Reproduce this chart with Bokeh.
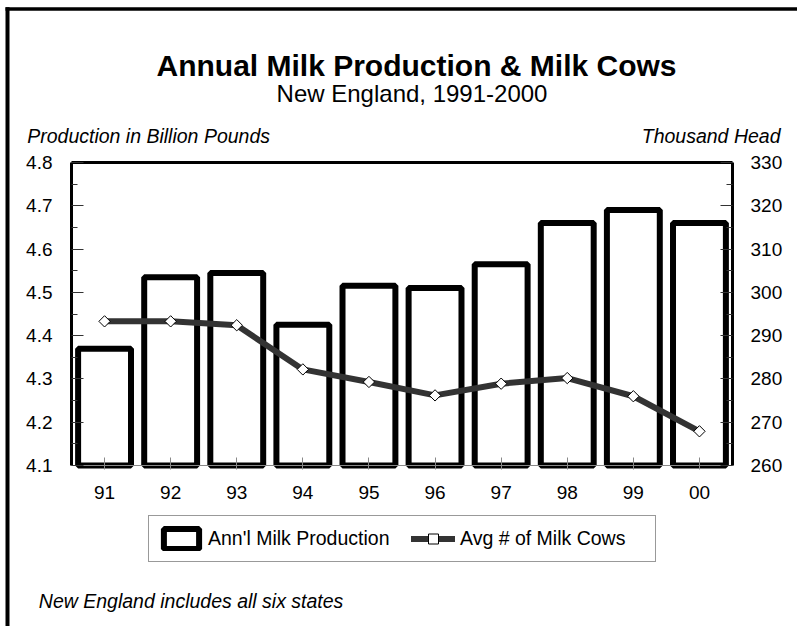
from bokeh.plotting import figure
from bokeh.models import (Range1d, LinearAxis, FixedTicker, BoxAnnotation,
                          Legend, LegendItem, Label, PrintfTickFormatter, ColumnDataSource)
from bokeh.embed import file_html
from bokeh.resources import INLINE
import numpy as np

# ---- data ----
years = ["91", "92", "93", "94", "95", "96", "97", "98", "99", "00"]
production = [4.37, 4.535, 4.545, 4.425, 4.515, 4.51, 4.565, 4.66, 4.69, 4.66]   # billion pounds
cows = [293.3, 293.3, 292.4, 282.2, 279.3, 276.2, 278.9, 280.2, 276.0, 267.9]    # thousand head
prod_ticks = [4.1, 4.2, 4.3, 4.4, 4.5, 4.6, 4.7, 4.8]
prod_minor = [4.15, 4.25, 4.35, 4.45, 4.55, 4.65, 4.75]
cow_ticks = [260, 270, 280, 290, 300, 310, 320, 330]
cow_minor = [265, 275, 285, 295, 305, 315, 325]

title_text = "Annual Milk Production & Milk Cows"
subtitle_text = "New England, 1991-2000"
left_title = "Production in Billion Pounds"
right_title = "Thousand Head"
footnote = "New England includes all six states"
bar_label = "Ann'l Milk Production"
line_label = "Avg # of Milk Cows"

FONT = "Liberation Sans"

# ---- layout (pixels) ----
W, H = 797, 626
PL, PR, PT, PB = 71, 732, 162, 465          # plot area edges

idx = list(range(len(years)))
n = len(years)
xs = (PR - PL) / n                           # px per category
x0 = -0.5 - PL / xs
x1 = -0.5 + (W - PL) / xs
p_lo, p_hi = prod_ticks[0], prod_ticks[-1]
ps = (PB - PT) / (p_hi - p_lo)
c_lo, c_hi = cow_ticks[0], cow_ticks[-1]
cs = (PB - PT) / (c_hi - c_lo)

src = ColumnDataSource(dict(i=idx, prod=production, cows=cows))

p = figure(width=W, height=H, output_backend="svg", toolbar_location=None,
           x_range=Range1d(x0, x1),
           y_range=Range1d(p_lo - (H - PB) / ps, p_hi + PT / ps),
           x_axis_location=None, y_axis_location=None, min_border=0)
p.extra_y_ranges = {"cows": Range1d(c_lo - (H - PB) / cs, c_hi + PT / cs)}
p.outline_line_color = None
p.grid.visible = False
p.background_fill_color = "white"

# ---- axes ----
xa = LinearAxis(fixed_location=p_lo, bounds=(-0.5, n - 0.5),
                ticker=FixedTicker(ticks=idx),
                major_label_overrides={i: y for i, y in zip(idx, years)})
xa.axis_line_color = "#888888"
xa.axis_line_width = 1
xa.major_tick_line_color = "#888888"
xa.major_tick_in = 8
xa.major_tick_out = 4
xa.minor_tick_line_color = None
xa.major_label_standoff = 16
xa.major_label_text_font = FONT
xa.major_label_text_font_size = "19px"
xa.major_label_text_color = "black"
p.add_layout(xa, "below")

top = LinearAxis(fixed_location=p_hi, bounds=(-0.5, n - 0.5), ticker=FixedTicker(ticks=[]),
                 axis_line_color="black", axis_line_width=3,
                 major_tick_line_color=None, minor_tick_line_color=None)
p.add_layout(top, "above")

ya = LinearAxis(fixed_location=-0.5, bounds=(p_lo, p_hi),
                ticker=FixedTicker(ticks=prod_ticks, minor_ticks=prod_minor),
                formatter=PrintfTickFormatter(format="%.1f"))
p.add_layout(ya, "left")
ra = LinearAxis(y_range_name="cows", fixed_location=n - 0.5, bounds=(c_lo, c_hi),
                ticker=FixedTicker(ticks=cow_ticks, minor_ticks=cow_minor))
p.add_layout(ra, "right")
for ax, so in ((ya, 19), (ra, 18)):
    ax.axis_line_color = "black"
    ax.axis_line_width = 3
    ax.major_tick_in = 12
    ax.major_tick_out = 0
    ax.minor_tick_in = 6
    ax.minor_tick_out = 0
    ax.major_tick_line_color = "#333333"
    ax.minor_tick_line_color = "#333333"
    ax.major_label_standoff = so
    ax.major_label_text_font = FONT
    ax.major_label_text_font_size = "19px"
    ax.major_label_text_color = "black"

# ---- marks ----
bars = p.vbar(x="i", top="prod", bottom=p_lo, width=0.8, source=src,
              fill_color="white", line_color="black", line_width=6)
ln = p.line(x="i", y="cows", source=src, y_range_name="cows",
            line_color="#333333", line_width=6, line_join="round", line_cap="round")
sc = p.scatter(x="i", y="cows", source=src, y_range_name="cows", marker="square",
               angle=np.pi / 4, size=8, fill_color="white", line_color="black", line_width=1)

# ---- legend ----
legend = Legend(items=[LegendItem(label=bar_label, renderers=[bars]),
                       LegendItem(label=line_label, renderers=[ln, sc])],
                orientation="horizontal", location=(148, H - 562),
                glyph_width=44, glyph_height=25, label_standoff=5, spacing=18,
                label_width=185, padding=10, margin=0,
                border_line_color="#333333", border_line_width=1,
                label_text_font=FONT, label_text_font_size="19.5px", label_text_color="black",
                background_fill_color="white", background_fill_alpha=1)
p.add_layout(legend, "center")

# ---- page frame (left and top border lines) ----
for l, r, t, b in ((5, 9, H - 6.7, -50), (5, W + 50, H - 6.7, H - 10.2)):
    p.add_layout(BoxAnnotation(left=l, right=r, top=t, bottom=b,
                               left_units="screen", right_units="screen",
                               top_units="screen", bottom_units="screen",
                               fill_color="black", fill_alpha=1, line_color=None))

# ---- texts ----
def lab(text, x, y_page, size, align, style="normal"):
    p.add_layout(Label(x=x, y=H - y_page, x_units="screen", y_units="screen", text=text,
                       text_align=align, text_baseline="alphabetic", text_font=FONT,
                       text_font_size=size, text_font_style=style, text_color="black"))

lab(title_text, 416, 65, "30px", "center", "bold")
lab(subtitle_text, 411.5, 93.3, "24px", "center")
lab(left_title, 26.7, 135, "19.5px", "left", "italic")
lab(right_title, 780, 135, "19.5px", "right", "italic")
lab(footnote, 38.3, 600.5, "19.5px", "left", "italic")

open("out.html", "w").write(file_html(p, INLINE))
